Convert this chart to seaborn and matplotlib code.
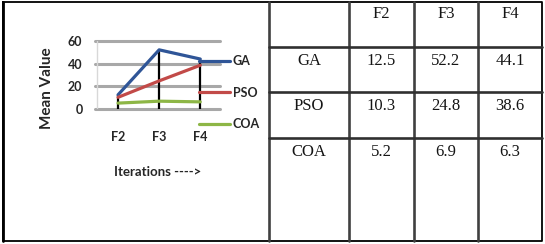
import matplotlib
matplotlib.use("Agg")
import matplotlib.pyplot as plt
from matplotlib.lines import Line2D
import seaborn as sns
import pandas as pd
import numpy as np

# ---- data ----
categories = ["F2", "F3", "F4"]
series_names = ["GA", "PSO", "COA"]
ga_values = [12.5, 52.2, 44.1]
pso_values = [10.3, 24.8, 38.6]
coa_values = [5.2, 6.9, 6.3]
y_ticks = [0, 20, 40, 60]
y_label = "Mean Value"
x_label = "Iterations ---->"

colors = {"GA": "#2F5597", "PSO": "#C24A48", "COA": "#8DB646"}

sns.set_theme(style="white")
plt.rcParams["font.family"] = ["Lato", "DejaVu Sans"]

W, H = 545, 244
fig = plt.figure(figsize=(W / 100, H / 100), dpi=100)

def px_axes(x0, y0, x1, y1):
    return fig.add_axes([x0 / W, 1 - y1 / H, (x1 - x0) / W, (y1 - y0) / H])

# ---- chart ----
ax = px_axes(95, 41, 220, 109)
values = {"GA": ga_values, "PSO": pso_values, "COA": coa_values}
df = pd.DataFrame(
    [(c, s, v) for s in series_names for c, v in zip(categories, values[s])],
    columns=["cat", "series", "value"],
)
for yt in y_ticks:
    ax.axhline(yt, color="#A8A8A8", lw=2.2, zorder=0, clip_on=False)
ax.axvline(-0.52, ymin=0, ymax=1, color="#D8D8D8", lw=1.0, zorder=0)

# drop lines from highest value to axis
xs = np.arange(len(categories))
tops = df.groupby("cat", sort=False)["value"].max().reindex(categories).values
ax.vlines(xs, 0, tops, color="black", lw=1.6, zorder=1)

sns.lineplot(data=df, x="cat", y="value", hue="series", palette=colors,
             hue_order=series_names, lw=2.3, ax=ax, legend=False, zorder=3,
             sort=False)

ax.set_xlim(-0.56, 2.48)
ax.set_ylim(0, 60)
ax.set_yticks(y_ticks)
ax.set_yticklabels([str(t) for t in y_ticks], fontsize=9, fontweight="bold")
ax.set_xticks(xs)
ax.set_xticklabels(categories, fontsize=9, fontweight="bold")
ax.tick_params(axis="x", length=0, pad=16)
ax.tick_params(axis="y", length=0, pad=9)
for s in ax.spines.values():
    s.set_visible(False)
ax.set_xlabel("")
ax.set_ylabel("")
ax.patch.set_alpha(0)

fig.text(47 / W, 1 - 88 / H, y_label, rotation=90, ha="center", va="center",
         fontsize=11, fontweight="bold")
fig.text(158 / W, 1 - 172 / H, x_label, ha="center", va="center",
         fontsize=9.5, fontweight="bold")

handles = [Line2D([], [], color=colors[s], lw=2.3) for s in series_names]
fig.legend(handles, series_names, loc="upper left",
           bbox_to_anchor=(199 / W, 1 - 55 / H), frameon=False,
           prop={"weight": "bold", "size": 9},
           handlelength=2.5, handletextpad=0.2, labelspacing=1.58,
           borderpad=0, borderaxespad=0)

# ---- frame and table ----
ov = fig.add_axes([0, 0, 1, 1], zorder=-1)
ov.set_xlim(0, W)
ov.set_ylim(H, 0)
ov.axis("off")
ov.plot([3, 542, 542, 3, 3], [1.5, 1.5, 241, 241, 1.5], color="black", lw=1.3)
ov.plot([3, 3], [1.5, 241], color="black", lw=2)

col_x = [269, 349, 414, 478, 542]
row_y = [1.5, 47, 92, 138, 241]
for x in col_x[:-1]:
    ov.plot([x, x], [row_y[0], row_y[-1]], color="#404040", lw=1.9)
for y in row_y[1:-1]:
    ov.plot([col_x[0], col_x[-1]], [y, y], color="#303030", lw=1.9)

tfont = dict(family=["Liberation Serif", "DejaVu Serif"], fontsize=12,
             ha="center", va="center", color="#151515")
for j, c in enumerate(categories):
    ov.text((col_x[j + 1] + col_x[j + 2]) / 2, row_y[0] + 13, c, **tfont)
for i, s in enumerate(series_names):
    yc = row_y[i + 1] + 14
    ov.text((col_x[0] + col_x[1]) / 2, yc, s, **tfont)
    for j, v in enumerate(values[s]):
        ov.text((col_x[j + 1] + col_x[j + 2]) / 2, yc, f"{v:.1f}", **tfont)

fig.savefig("out.png", dpi=100)
